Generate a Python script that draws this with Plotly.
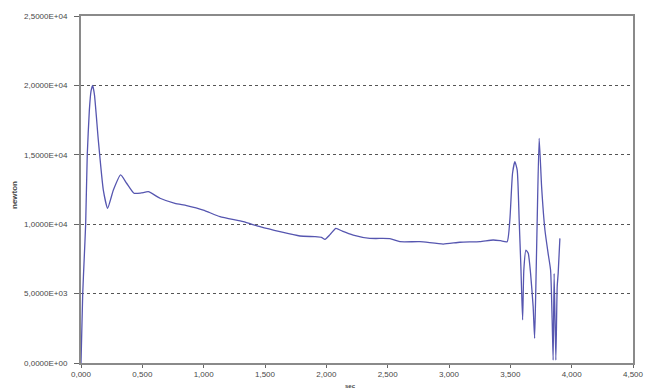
import plotly.graph_objects as go

# Data (time in sec, force in newton)
time_s = [0.000, 0.014, 0.026, 0.038, 0.051, 0.068, 0.082, 0.095, 0.110, 0.141, 0.182, 0.217,
          0.264, 0.323, 0.372, 0.432, 0.490, 0.549, 0.644, 0.766, 0.861, 0.997, 1.133, 1.323,
          1.459, 1.622, 1.785, 1.907, 1.960, 1.989, 2.030, 2.078, 2.130, 2.219, 2.355, 2.518,
          2.600, 2.763, 2.953, 3.089, 3.252, 3.360, 3.420, 3.474, 3.496, 3.518, 3.537, 3.556,
          3.572, 3.586, 3.600, 3.610, 3.627, 3.646, 3.665, 3.686, 3.698, 3.708, 3.719, 3.735,
          3.755, 3.782, 3.808, 3.828, 3.841, 3.849, 3.857, 3.871, 3.882, 3.890, 3.904]
force_n = [0, 5000, 7500, 10000, 15000, 18200, 19600, 20000, 19300, 16070, 12460, 11150,
           12460, 13550, 12950, 12230, 12250, 12340, 11870, 11500, 11340, 11020, 10540, 10180,
           9820, 9460, 9150, 9100, 9050, 8910, 9250, 9700, 9500, 9220, 8980, 8960,
           8740, 8740, 8570, 8700, 8740, 8860, 8810, 8740, 10300, 13670, 14500, 13900,
           10300, 6940, 3100, 6700, 8140, 7900, 6460, 4060, 1780, 5500, 10300, 16190,
           12700, 9580, 7900, 6700, 3100, 200, 6460, 200, 5500, 6460, 8980]

x_tickvals = [0, 0.5, 1.0, 1.5, 2.0, 2.5, 3.0, 3.5, 4.0, 4.5]
x_ticktext = ["0,000", "0,500", "1,000", "1,500", "2,000", "2,500", "3,000", "3,500", "4,000", "4,500"]
y_tickvals = [0, 5000, 10000, 15000, 20000, 25000]
y_ticktext = ["0,0000E+00", "5,0000E+03", "1,0000E+04", "1,5000E+04", "2,0000E+04", "2,5000E+04"]

FONT = "Arial, Liberation Sans, sans-serif"

fig = go.Figure()
fig.add_trace(go.Scatter(
    x=time_s, y=force_n, mode="lines",
    line=dict(color="#5656b0", width=1.3, shape="spline", smoothing=0.5),
    showlegend=False, hoverinfo="skip",
))

tickfont = dict(family=FONT, size=8, color="#484848")
fig.update_layout(
    width=645, height=392,
    margin=dict(l=81, r=12, t=16, b=29, autoexpand=False),
    paper_bgcolor="white", plot_bgcolor="white",
    xaxis=dict(
        range=[0, 4.5], tickvals=x_tickvals, ticktext=x_ticktext, tickfont=tickfont,
        showgrid=False, zeroline=False, showline=True, linecolor="#8a8a8a", linewidth=1.5,
        mirror=True, ticks="outside", ticklen=3, tickcolor="#666666", automargin=False,
    ),
    yaxis=dict(
        range=[0, 25000], tickvals=y_tickvals, ticktext=y_ticktext, tickfont=tickfont,
        showgrid=True, gridcolor="#555555", griddash="dot", gridwidth=1,
        zeroline=False, showline=True, linecolor="#8a8a8a", linewidth=2, mirror=True,
        ticks="outside", ticklen=5, tickcolor="#666666", automargin=False,
        ticklabelstandoff=5,
    ),
    annotations=[
        dict(text="<b>newton</b>", x=15, y=195, showarrow=False,
             textangle=-90, font=dict(family=FONT, size=8, color="#484848"),
             xanchor="center", yanchor="middle"),
        dict(text="<b>sec</b>", x=350, y=386, showarrow=False,
             font=dict(family=FONT, size=6, color="#484848"),
             xanchor="center", yanchor="middle"),
    ],
)

# convert pixel positions of axis titles into paper coordinates
pw, ph = 645 - 81 - 12, 392 - 16 - 29
for ann in fig.layout.annotations:
    ann.xref = "paper"
    ann.yref = "paper"
    ann.x = (ann.x - 81) / pw
    ann.y = (392 - 29 - ann.y) / ph

fig.write_html("out.html", config={"displayModeBar": False},
               post_script="document.body.style.margin='0px';document.body.style.padding='0px';")
